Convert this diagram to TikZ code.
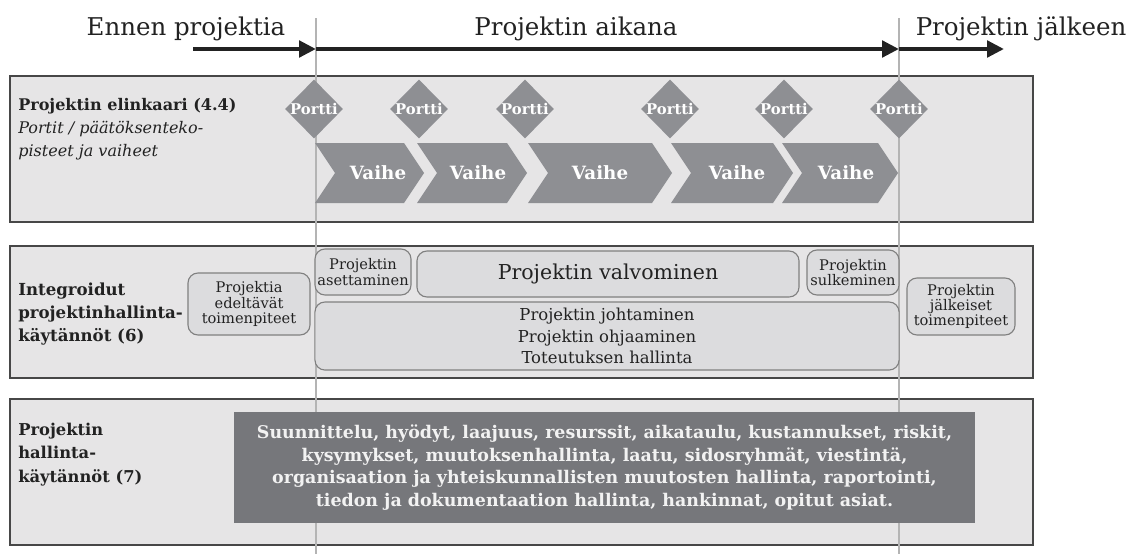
\documentclass[tikz,border=0pt]{standalone}
\usepackage{fontspec}
\setmainfont{DejaVu Serif}
\usetikzlibrary {shapes.geometric, arrows.meta}

\definecolor{panelgray}{HTML}{E6E5E6}
\definecolor{framegray}{HTML}{474747}
\definecolor{stepgray}{HTML}{8E8F93}
\definecolor{boxgray}{HTML}{DCDCDE}
\definecolor{boxline}{HTML}{808080}
\definecolor{listgray}{HTML}{76777B}
\definecolor{guidegray}{HTML}{B4B4B4}
\definecolor{inkgray}{HTML}{222222}

\tikzset{
  panel/.style = {draw = framegray, line width = 1.1pt, fill = panelgray},
  guide/.style = {draw = guidegray, line width = 1.4pt},
  timearrow/.style = {draw = inkgray, line width = 3.4pt, -{Triangle[length = 12pt, width = 11.5pt]}},
  portti/.style = {diamond, fill = stepgray, minimum width = 1.45cm, minimum height = 1.475cm, inner sep = 0pt},
  porttilabel/.style = {text = white, inner sep = 0pt, font = \bfseries\fontsize{10.5}{12}\selectfont},
  vaihe/.style = {text = white, inner sep = 0pt, font = \bfseries\fontsize{13}{15}\selectfont},
  phase/.style = {draw = boxline, line width = 0.8pt, fill = boxgray, rounded corners = 0.25cm, inner sep = 0pt, align = center, text = inkgray},
  smalltext/.style = {font = \fontsize{10.4}{10.9}\selectfont},
  heading/.style = {anchor = north west, align = left, inner sep = 0pt, text = inkgray, font = \fontsize{11.4}{16.2}\selectfont},
  timelabel/.style = {anchor = base, inner sep = 0pt, text = inkgray, font = \fontsize{17.4}{20}\selectfont}
}

\begin{document}
\begin{tikzpicture}[x = 0.025cm, y = -0.025cm]
\useasboundingbox (0,0) rectangle (1136,554);

%panels
        \draw[panel] (10,76) rectangle (1033,222);
        \draw[panel] (10,246) rectangle (1033,378);
        \draw[panel] (10,399) rectangle (1033,545);

%start and end of the project
        \coordinate (a1) at (316,18);
        \coordinate (a2) at (316,554);
        \coordinate (b1) at (899,18);
        \coordinate (b2) at (899,554);
        \draw[guide] (a1) -- (a2);
        \draw[guide] (b1) -- (b2);

%time line
        \coordinate (t0) at (193,49);
        \coordinate (t1) at (316,49);
        \coordinate (t2) at (899,49);
        \coordinate (t3) at (1004,49);
        \draw[timearrow] (t0) -- (t1);
        \draw[timearrow] (t1) -- (t2);
        \draw[timearrow] (t2) -- (t3);
        \node at (186,35) [timelabel] (before) {Ennen projektia};
        \node at (576,35) [timelabel] (during) {Projektin aikana};
        \node at (1021,35) [timelabel] (after) {Projektin jälkeen};

%life cycle
        \node at (18,98) [heading] (cycle) {\textbf{Projektin elinkaari (4.4)}\\\textit{Portit / päätöksenteko-}\\\textit{pisteet ja vaiheet}};
        \foreach \l/\t/\c [count = \i] in {315/424/378, 417/527/478, 528/672/600, 671/793/737, 782/898/846} {
            \fill[stepgray] (\l,143) -- (\t-20,143) -- (\t,173) -- (\t-20,203) -- (\l,203) -- (\l+20,173) -- cycle;
            \node at (\c,173) [vaihe] (v\i) {Vaihe};
        }
        \foreach \x [count = \i] in {314, 419, 525, 670, 784, 899} {
            \node at (\x,109) [portti, label = {[porttilabel]center:Portti}] (g\i) {};
        }

%integrated practices
        \node at (18,283) [heading, font = \bfseries\fontsize{11.8}{16.2}\selectfont] (integr) {Integroidut\\projektinhallinta-\\käytännöt (6)};
        \node at (249,304) [phase, smalltext, minimum width = 3.05cm, minimum height = 1.55cm] (pre) {Projektia\\edeltävät\\toimenpiteet};
        \node at (363,272) [phase, smalltext, minimum width = 2.4cm, minimum height = 1.15cm] (setup) {Projektin\\asettaminen};
        \node at (608,274) [phase, font = \fontsize{14.6}{17}\selectfont, minimum width = 9.55cm, minimum height = 1.15cm] (watch) {Projektin valvominen};
        \node at (853,272.5) [phase, smalltext, minimum width = 2.3cm, minimum height = 1.125cm] (close) {Projektin\\sulkeminen};
        \node at (607,336) [phase, font = \fontsize{11.7}{15.3}\selectfont, minimum width = 14.6cm, minimum height = 1.7cm] (lead) {Projektin johtaminen\\Projektin ohjaaminen\\Toteutuksen hallinta};
        \node at (961,306.5) [phase, smalltext, minimum width = 2.7cm, minimum height = 1.425cm] (post) {Projektin\\jälkeiset\\toimenpiteet};

%management practices
        \node at (18,423) [heading, font = \bfseries\fontsize{11.6}{16.5}\selectfont] (practice) {Projektin\\hallinta-\\käytännöt (7)};
        \node at (604.5,467.5) [fill = listgray, minimum width = 18.525cm, minimum height = 2.775cm, inner sep = 0pt, align = center, text = white!95!black, font = \bfseries\fontsize{12.4}{16.2}\selectfont] (topics) {Suunnittelu, hyödyt, laajuus, resurssit, aikataulu, kustannukset, riskit,\\kysymykset, muutoksenhallinta, laatu, sidosryhmät, viestintä,\\organisaation ja yhteiskunnallisten muutosten hallinta, raportointi,\\tiedon ja dokumentaation hallinta, hankinnat, opitut asiat.};
\end{tikzpicture}
\end{document}
